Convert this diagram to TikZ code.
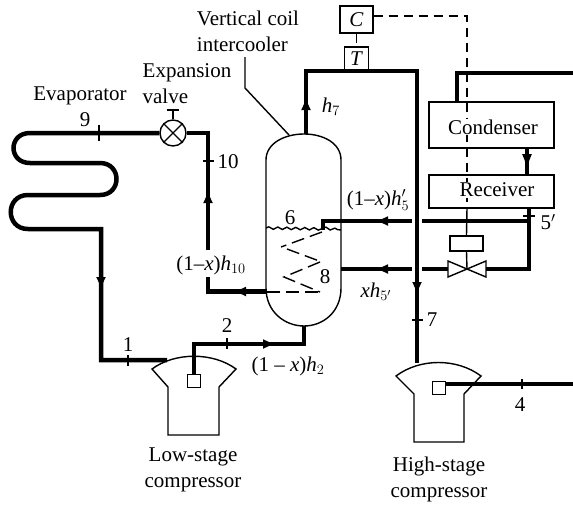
\documentclass[tikz,border=0pt]{standalone}
\usepackage{fontspec}
\setmainfont{Liberation Serif}
\usetikzlibrary{arrows.meta,decorations.pathmorphing}
\tikzset{
	pipe/.style={line width=4.5pt},
	wall/.style={line width=1.4pt},
	signal/.style={line width=1.5pt, dash pattern=on 9pt off 6pt},
	coil/.style={line width=1.4pt, dash pattern=on 13pt off 6pt},
	unit/.style={draw, line width=1.4pt, inner sep=0pt},
}
\begin{document}
\begin{tikzpicture}[x=1pt, y=-1pt, every node/.style={font=\fontsize{21}{26}\selectfont}, >={Latex[length=13pt,width=10pt]}]
	\useasboundingbox (0,0) rectangle (573,504);
	% vessel
	\draw[wall] (266,160) .. controls (266,143) and (285,134) .. (304,134) .. controls (323,134) and (341,143) .. (341,160) -- (341,288) .. controls (341,312) and (323,326) .. (304,326) .. controls (285,326) and (266,312) .. (266,288) -- cycle;
	\draw[wall, decorate, decoration={snake, segment length=9pt, amplitude=1.2pt}] (266,228) -- (323,229);
	\draw[wall, decorate, decoration={snake, segment length=9pt, amplitude=1.2pt}] (323,228) -- (341,230);
	\draw[coil] (322,232) -- (281,247);
	\draw[coil] (287,249) -- (322,262);
	\draw[coil] (320,262) -- (284,277) -- (320,292);
	\draw[coil] (267,292) -- (322,292);
	\draw[wall] (245,57) -- (245,88) -- (289,135);
	% evaporator circuit
	\node[circle, draw, fill=white, line width=1.4pt, minimum size=26pt, inner sep=0pt] (valve) at (173,133) {};
	\draw[wall] (valve.45) -- (valve.225);
	\draw[wall] (valve.135) -- (valve.315);
	\draw[wall] (valve.north) -- (173,110);
	\draw[wall] (167,110) -- (179,110);
	\draw[pipe] (valve.west) -- (30,133) .. controls (8,133) and (8,163) .. (30,163) -- (100,163) .. controls (122,163) and (122,195) .. (100,195) -- (28,195) .. controls (5,195) and (5,229) .. (28,229) -- (101,229) -- (101,360) -- (167,360);
	\draw[pipe, ->] (101,229) -- (101,290);
	\draw[pipe] (208,250) -- (208,133) -- (valve.east);
	\draw[pipe, ->] (208,250) -- (208,190);
	\draw[pipe] (208,277) -- (208,291.5) -- (266,291.5);
	\draw[pipe, ->] (266,291.5) -- (233,291.5);
	% compressors
	\draw[wall] (152,369) .. controls (175,352) and (213,352) .. (236,369) -- (219,387) -- (219,435) -- (168,435) -- (168,387) -- cycle;
	\draw[wall] (396,376) .. controls (420,358) and (457,358) .. (481,376) -- (464,394) -- (464,442) -- (414,442) -- (414,394) -- cycle;
	\node[unit, minimum size=13.5pt] (lowport) at (194,381) {};
	\node[unit, minimum size=13.5pt] (highport) at (439,388) {};
	\draw[pipe] (lowport.north) -- (194,344) -- (304,344) -- (304,326);
	\draw[pipe, ->] (227,344) -- (276,344);
	\draw[pipe] (highport.east |- 0,384) -- (573,384);
	% upper loop
	\draw[pipe] (306,134) -- (306,71) -- (417,71) -- (417,363);
	\draw[pipe, ->] (306,134) -- (306,97);
	\draw[pipe, ->] (417,250) -- (417,295);
	% condenser and receiver
	\node[unit, minimum width=125pt, minimum height=46pt] (condenser) at (491.5,125) {};
	\node[unit, minimum width=125pt, minimum height=33pt] (receiver) at (491.5,191.5) {};
	\draw[pipe] (457,102) -- (457,73) -- (573,73);
	\draw[pipe] (527,148) -- (527,175);
	\draw[pipe, -{Latex[length=17pt,width=10pt]}] (527,148) -- (527,171);
	\draw[pipe] (529,208) -- (529,269) -- (486,269);
	\draw[pipe] (529,221) -- (422,221);
	\draw[pipe] (412,221) -- (323,221) -- (323,230);
	\draw[pipe, ->] (412,221) -- (375,221);
	\draw[pipe] (448,269) -- (422,269);
	\draw[pipe] (412,269) -- (341,269);
	\draw[pipe, ->] (412,269) -- (375,269);
	% control line
	\node[unit, minimum width=33pt, minimum height=27pt] (C) at (356.5,19.5) {\textit{C}};
	\node[unit, minimum size=24pt] (T) at (356.5,59) {\textit{T}};
	\draw[signal] (C.south) -- (T.north);
	\draw[signal] (C.east |- 0,16) -- (467,16) -- (467,208);
	\node[fill=white, inner sep=1pt] (condenserlabel) at (493,127) {Condenser};
	\node[fill=white, inner sep=1pt] (receiverlabel) at (497,190) {Receiver};
	\draw[wall] (448,261) -- (486,277) -- (486,261) -- (448,277) -- cycle;
	\node[unit, minimum width=33pt, minimum height=15pt] (pilot) at (466.5,243.5) {};
	\draw[wall] (467,208) -- (pilot.north);
	\draw[wall] (pilot.south) -- (467,269);
	% state points
	\draw[wall] (99,125) -- (99,141);
	\draw[wall] (203,161) -- (214,161);
	\draw[wall] (128,355) -- (128,366);
	\draw[wall] (227,338) -- (227,349);
	\draw[wall] (523,216) -- (535,216);
	\draw[wall] (412,320) -- (423,320);
	\draw[wall] (522,379) -- (522,389);
	% labels
	\node[align=left] (intercoolerlabel) at (248,31) {Vertical coil\\intercooler};
	\node[align=left] (expansionlabel) at (187,84) {Expansion\\valve};
	\node (evaporatorlabel) at (80,96) {Evaporator};
	\node (pointnine) at (85,120) {9};
	\node (pointten) at (228,162) {10};
	\node (pointone) at (128,345) {1};
	\node (pointtwo) at (227,326) {2};
	\node (pointfive) at (548,222) {5$'$};
	\node (pointsix) at (290,218) {6};
	\node (pointseven) at (432,320) {7};
	\node (pointeight) at (325,277) {8};
	\node (pointfour) at (520,405) {4};
	\node (hseven) at (331,107) {$\mathit{h}_7$};
	\node (hfive) at (378,200) {(1–\textit{x})$\mathit{h}'_5$};
	\node (hten) at (211,265) {(1–\textit{x})$\mathit{h}_{10}$};
	\node (htwo) at (288,366) {(1 – \textit{x})$\mathit{h}_2$};
	\node (xhfive) at (376,292) {$\mathit{xh}_{5'}$};
	\node[align=center] (lowlabel) at (193,470) {Low-stage\\compressor};
	\node[align=center] (highlabel) at (439,479) {High-stage\\compressor};
\end{tikzpicture}
\end{document}
